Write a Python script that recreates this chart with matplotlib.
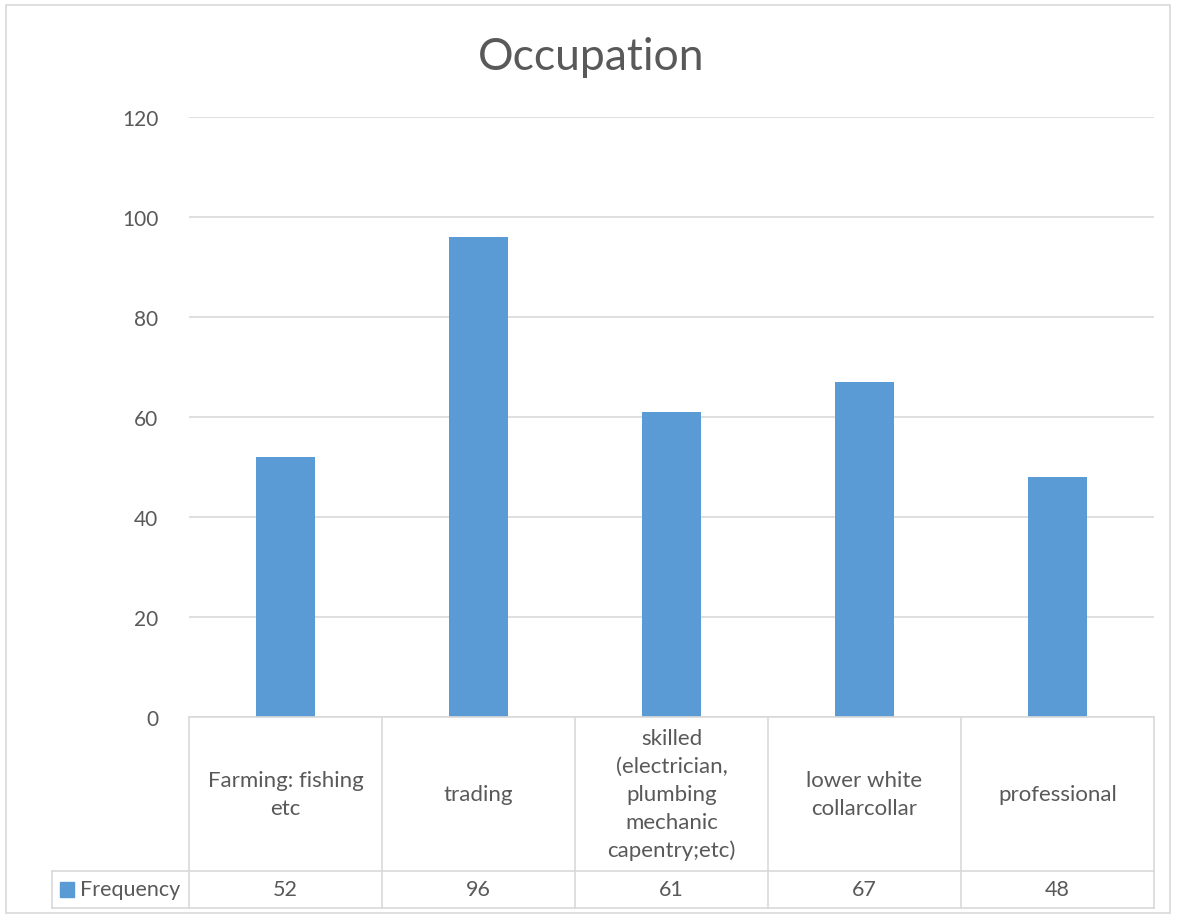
import matplotlib.pyplot as plt
from matplotlib.patches import Rectangle

categories = ['Farming: fishing\netc', 'trading',
              'skilled\n(electrician,\nplumbing\nmechanic\ncapentry;etc)',
              'lower white\ncollarcollar', 'professional']
frequency = [52, 96, 61, 67, 48]
series_name = 'Frequency'
title = 'Occupation'

bar_color = '#5B9BD5'
text_color = '#595959'
grid_color = '#D9D9D9'

plt.rcParams['font.family'] = ['Lato', 'DejaVu Sans']

W, H = 1183, 920
fig = plt.figure(figsize=(W / 100, H / 100), dpi=100)

# plot area in pixels: x 189..1154, y 118..718
ax = fig.add_axes([189 / W, 1 - 718 / H, (1154 - 189) / W, 600 / H])
x = list(range(len(categories)))
ax.bar(x, frequency, width=0.31, color=bar_color, zorder=2)
ax.set_xlim(-0.5, len(categories) - 0.5)
ax.set_ylim(0, 120)
ax.set_yticks(range(0, 121, 20))
ax.tick_params(axis='y', length=0, pad=22, labelsize=15, labelcolor=text_color)
ax.set_xticks([])
ax.grid(axis='y', color=grid_color, linewidth=1.2, zorder=0)
for s in ax.spines.values():
    s.set_visible(False)

fig.text(0.5, 1 - 58 / H, title, ha='center', va='center',
         fontsize=32, color=text_color)

# data table under the axis
tr = ax.get_xaxis_transform()
row1 = -154 / 600
row2 = -191 / 600
left = -0.5 - (189 - 52) / 193
lw = 1.2
n = len(categories)
ax.plot([-0.5, n - 0.5], [0, 0], transform=tr, color=grid_color, lw=lw, clip_on=False)
ax.plot([left, n - 0.5], [row1, row1], transform=tr, color=grid_color, lw=lw, clip_on=False)
ax.plot([left, n - 0.5], [row2, row2], transform=tr, color=grid_color, lw=lw, clip_on=False)
ax.plot([left, left], [row1, row2], transform=tr, color=grid_color, lw=lw, clip_on=False)
for i in range(n + 1):
    ax.plot([i - 0.5, i - 0.5], [0, row2], transform=tr, color=grid_color, lw=lw, clip_on=False)
for i, (c, v) in enumerate(zip(categories, frequency)):
    ax.text(i, row1 / 2, c, transform=tr, ha='center', va='center',
            fontsize=16, color=text_color, linespacing=1.5)
    ax.text(i, (row1 + row2) / 2, str(v), transform=tr, ha='center', va='center',
            fontsize=15.5, color=text_color)

# legend key in the table
ax.add_patch(Rectangle((left + 0.04, (row1 + row2) / 2 - 0.012), 0.075, 0.024,
                       transform=tr, color=bar_color, clip_on=False))
ax.text(left + 0.145, (row1 + row2) / 2, series_name, transform=tr, ha='left',
        va='center', fontsize=15.5, color=text_color)

# outer chart border
fig.add_artist(Rectangle((6 / W, 1 - 914 / H), (1170 - 6) / W, (914 - 6) / H,
                         transform=fig.transFigure, fill=False,
                         edgecolor=grid_color, lw=1.2))

fig.savefig('out.png', dpi=100)
